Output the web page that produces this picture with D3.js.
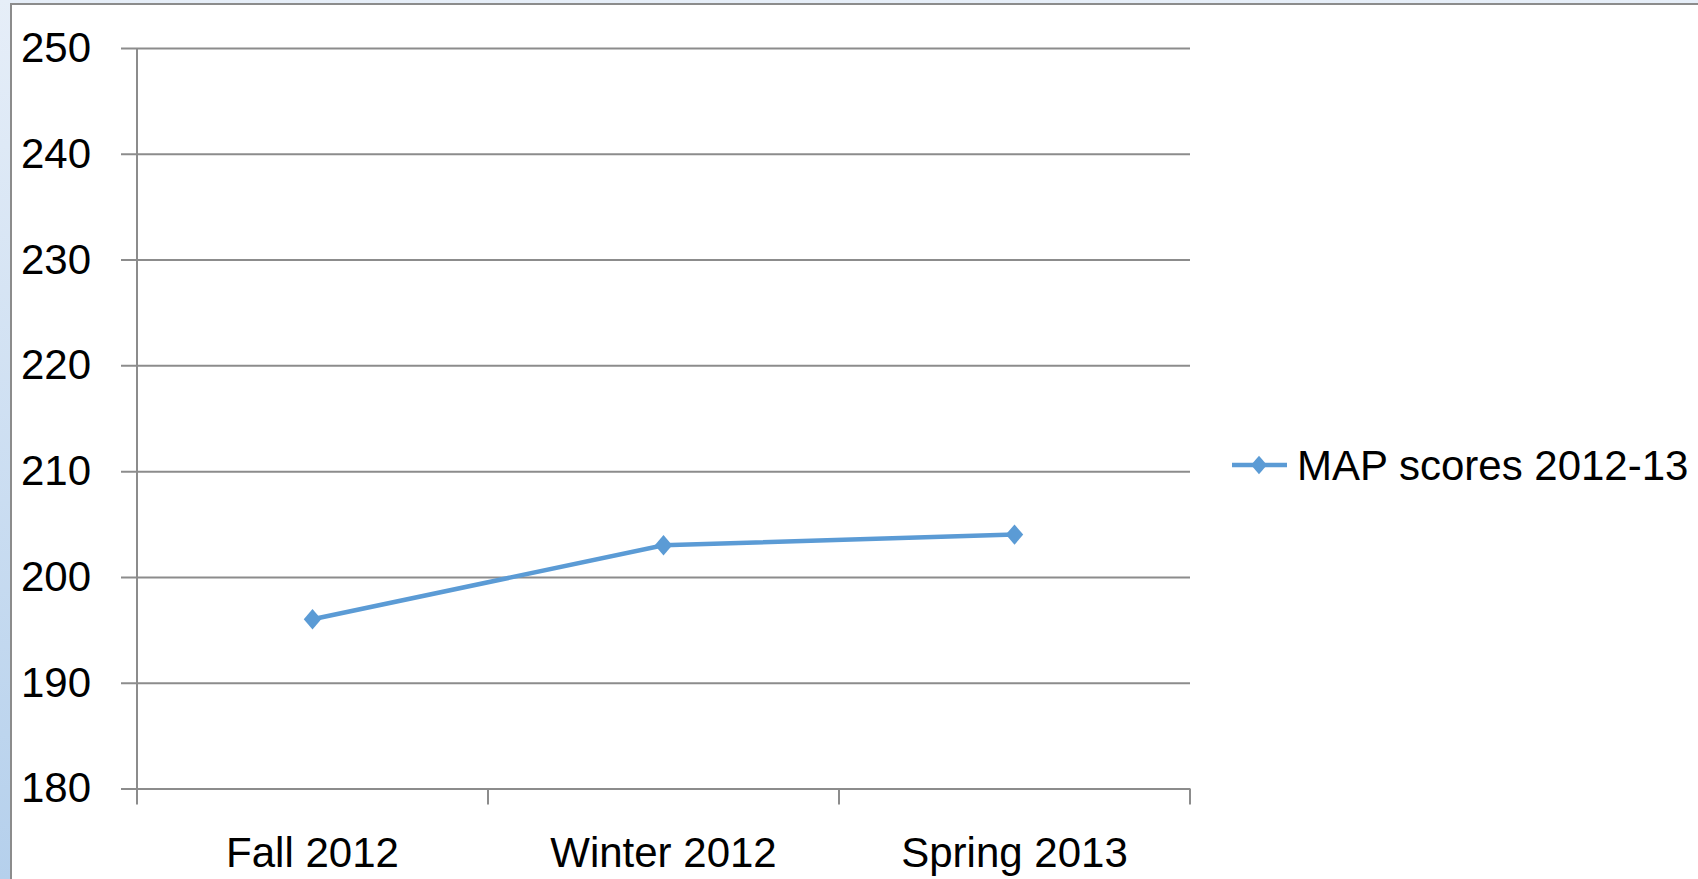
<!DOCTYPE html>
<html>
<head>
<meta charset="UTF-8" />
<title>MAP scores</title>
<script src="https://cdn.jsdelivr.net/npm/d3@7"></script>
<style>
	body { margin: 0; background: #fff; }
	svg { display: block; font-family: "Liberation Sans", Arial, sans-serif; }
</style>
</head>
<body>
<svg id="vis" width="1698" height="879"></svg>
<script>
	// données du graphique
	const categories = ["Fall 2012", "Winter 2012", "Spring 2013"];
	const scores = [196, 203, 204];
	const yTicks = [180, 190, 200, 210, 220, 230, 240, 250];
	const seriesName = "MAP scores 2012-13";

	const blue = "#5b9bd5";
	const grey = "#8c8c8c";

	const svg = d3.select("#vis");

	// fond bleu du cadre (à gauche et en haut)
	const defs = svg.append("defs");
	const grad = defs.append("linearGradient").attr("id", "bg").attr("x1", 0).attr("y1", 0).attr("x2", 0).attr("y2", 1);
	grad.append("stop").attr("offset", "0%").attr("stop-color", "#e6eef8");
	grad.append("stop").attr("offset", "100%").attr("stop-color", "#b5d0ec");
	svg.append("rect").attr("width", 1698).attr("height", 879).attr("fill", "url(#bg)");
	svg.append("rect")
		.attr("x", 11).attr("y", 4).attr("width", 1698).attr("height", 900)
		.attr("fill", "#fff").attr("stroke", grey).attr("stroke-width", 2);

	// échelles
	const x = d3.scaleBand().domain(categories).range([137, 1190]);
	const y = d3.scaleLinear().domain([180, 250]).range([788.5, 48]);

	// grille horizontale + graduations à gauche
	const yAxis = d3.axisLeft(y).tickValues(yTicks).tickSize(-(1190 - 121)).tickPadding(30);
	const gy = svg.append("g").attr("transform", "translate(121,0)");
	gy.call(yAxis);
	gy.select(".domain").remove();
	gy.selectAll(".tick line")
		.attr("x1", 0).attr("x2", 1190 - 121)
		.attr("stroke", grey).attr("stroke-width", 2);
	gy.selectAll(".tick text")
		.attr("x", -30)
		.attr("font-size", 42).attr("fill", "#000")
		.attr("font-family", "Liberation Sans, Arial, sans-serif");

	// axe vertical
	svg.append("line")
		.attr("x1", 137).attr("x2", 137).attr("y1", 48).attr("y2", 804)
		.attr("stroke", grey).attr("stroke-width", 2);

	// axe horizontal avec graduations aux limites des catégories
	const gx = svg.append("g").attr("transform", "translate(0,788.5)");
	const bounds = categories.map(c => x(c)).concat([x.range()[1]]);
	gx.selectAll("line.tk").data(bounds).join("line")
		.attr("class", "tk")
		.attr("x1", d => d).attr("x2", d => d).attr("y1", 0).attr("y2", 16)
		.attr("stroke", grey).attr("stroke-width", 2);
	gx.selectAll("text").data(categories).join("text")
		.attr("x", d => x(d) + x.bandwidth() / 2)
		.attr("y", 78)
		.attr("text-anchor", "middle")
		.attr("font-size", 42)
		.text(d => d);

	// la série
	const pts = categories.map((c, i) => [x(c) + x.bandwidth() / 2, y(scores[i])]);
	svg.append("path")
		.attr("d", d3.line()(pts))
		.attr("fill", "none").attr("stroke", blue).attr("stroke-width", 4.5);

	const diamond = d3.symbol().type(d3.symbolDiamond2).size(240);
	svg.selectAll("path.mk").data(pts).join("path")
		.attr("class", "mk")
		.attr("d", diamond)
		.attr("transform", d => `translate(${d[0]},${d[1]}) scale(0.9,1.05)`)
		.attr("fill", blue);

	// légende
	const lg = svg.append("g").attr("transform", "translate(1232,465)");
	lg.append("line").attr("x1", 0).attr("x2", 55).attr("stroke", blue).attr("stroke-width", 4.5);
	lg.append("path").attr("d", d3.symbol().type(d3.symbolDiamond2).size(200)).attr("transform", "translate(27,0) scale(0.9,1.05)").attr("fill", blue);
	lg.append("text").attr("x", 65).attr("y", 15).attr("font-size", 42).text(seriesName);
</script>
</body>
</html>
